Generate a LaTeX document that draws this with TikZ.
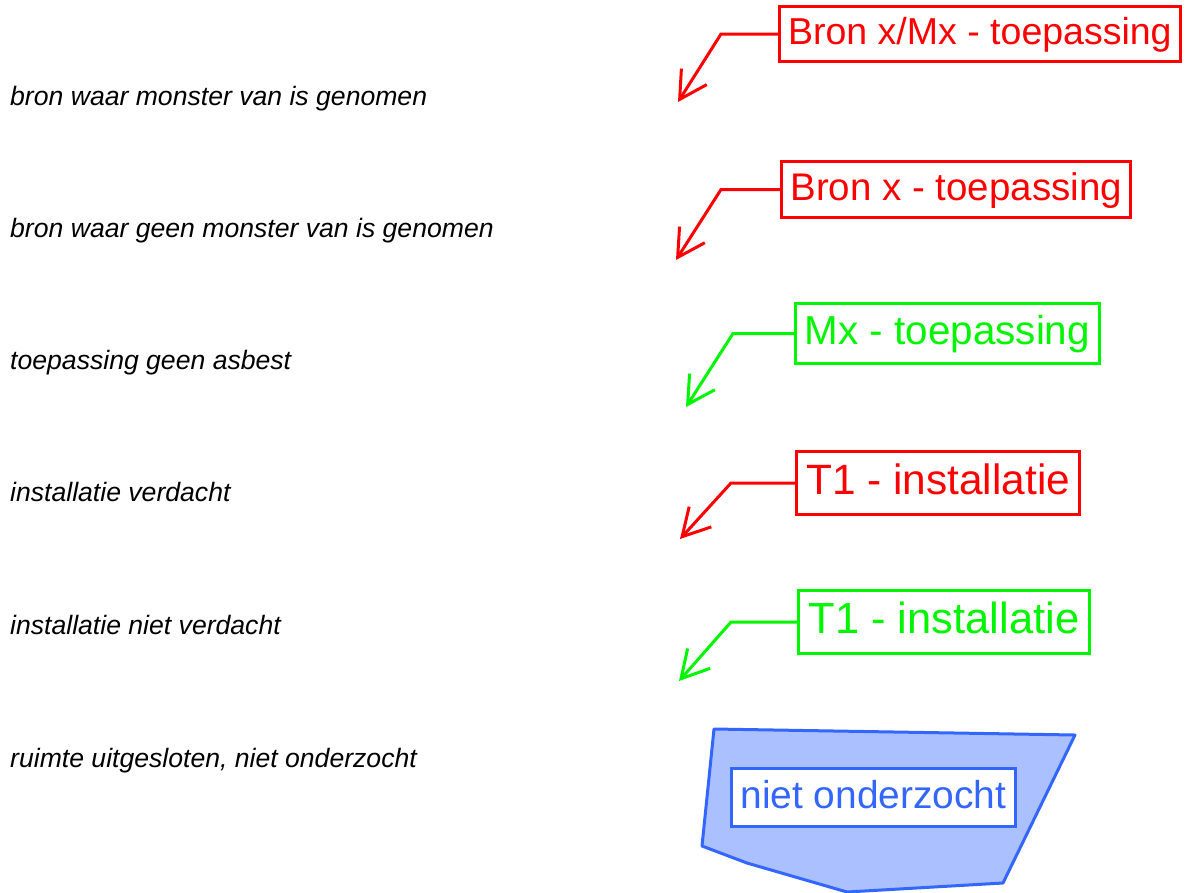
\documentclass[tikz,border=0pt]{standalone}
\usepackage{fontspec}
\setmainfont{Liberation Sans}
\usetikzlibrary{arrows.meta}
\definecolor{rood}{RGB}{255,0,0}
\definecolor{groen}{RGB}{0,245,0}
\definecolor{blauw}{RGB}{51,102,255}
\definecolor{lichtblauw}{RGB}{170,192,255}

\begin{document}
\begin{tikzpicture}[x=1pt,y=-1pt,
        uitleg/.style={anchor=base west,inner sep=0pt,font=\fontsize{26.6}{30}\selectfont\itshape},
        bron/.style 2 args={draw=#1,text=#1,fill=white,line width=3pt,anchor=west,
            font=\fontsize{#2}{#2}\selectfont,inner xsep={.23*#2},inner ysep=0pt,
            text height={.75*#2},text depth={.2*#2},minimum height={1.47*#2}},
        pijl/.style={draw=#1,line width=3pt,line join=miter,-{Straight Barb[length=27pt,width=30pt]}}]
    \useasboundingbox (0,0) rectangle (1190,892);
    % legenda teksten links
    \node[uitleg] (u1) at (10,105) {bron waar monster van is genomen};
    \node[uitleg] (u2) at (10,237) {bron waar geen monster van is genomen};
    \node[uitleg] (u3) at (10,369) {toepassing geen asbest};
    \node[uitleg] (u4) at (10,501) {installatie verdacht};
    \node[uitleg] (u5) at (10,634) {installatie niet verdacht};
    \node[uitleg] (u6) at (10,767) {ruimte uitgesloten, niet onderzocht};
    % symbolen rechts
    \node[bron={rood}{37.5}] (b1) at (778,34) {Bron x/Mx - toepassing};
    \node[bron={rood}{38.5}] (b2) at (780,189.5) {Bron x - toepassing};
    \node[bron={groen}{40.4}] (b3) at (794,333.5) {Mx - toepassing};
    \node[bron={rood}{42.4}] (b4) at (795,483) {T1 - installatie};
    \node[bron={groen}{43.5}] (b5) at (797,622) {T1 - installatie};
    \coordinate (k1) at (721,33);  \coordinate (p1) at (678,102);
    \coordinate (k2) at (721,189); \coordinate (p2) at (676,260);
    \coordinate (k3) at (733,333); \coordinate (p3) at (686,407);
    \coordinate (k4) at (731,482); \coordinate (p4) at (680,539);
    \coordinate (k5) at (731,622); \coordinate (p5) at (679,681);
    \draw[pijl=rood] (b1.west) -- (b1.west -| k1) -- (p1);
    \draw[pijl=rood] (b2.west) -- (b2.west -| k2) -- (p2);
    \draw[pijl=groen] (b3.west) -- (b3.west -| k3) -- (p3);
    \draw[pijl=rood] (b4.west) -- (b4.west -| k4) -- (p4);
    \draw[pijl=groen] (b5.west) -- (b5.west -| k5) -- (p5);
    % uitgesloten ruimte
    \filldraw[fill=lichtblauw,draw=blauw,line width=3pt,line join=round]
        (714,729) -- (1075,735) -- (1003,883) -- (847,892) -- (747,863) -- (702,846) -- cycle;
    \node[bron={blauw}{38.9}] (b6) at (730,797.5) {niet onderzocht};
\end{tikzpicture}
\end{document}
